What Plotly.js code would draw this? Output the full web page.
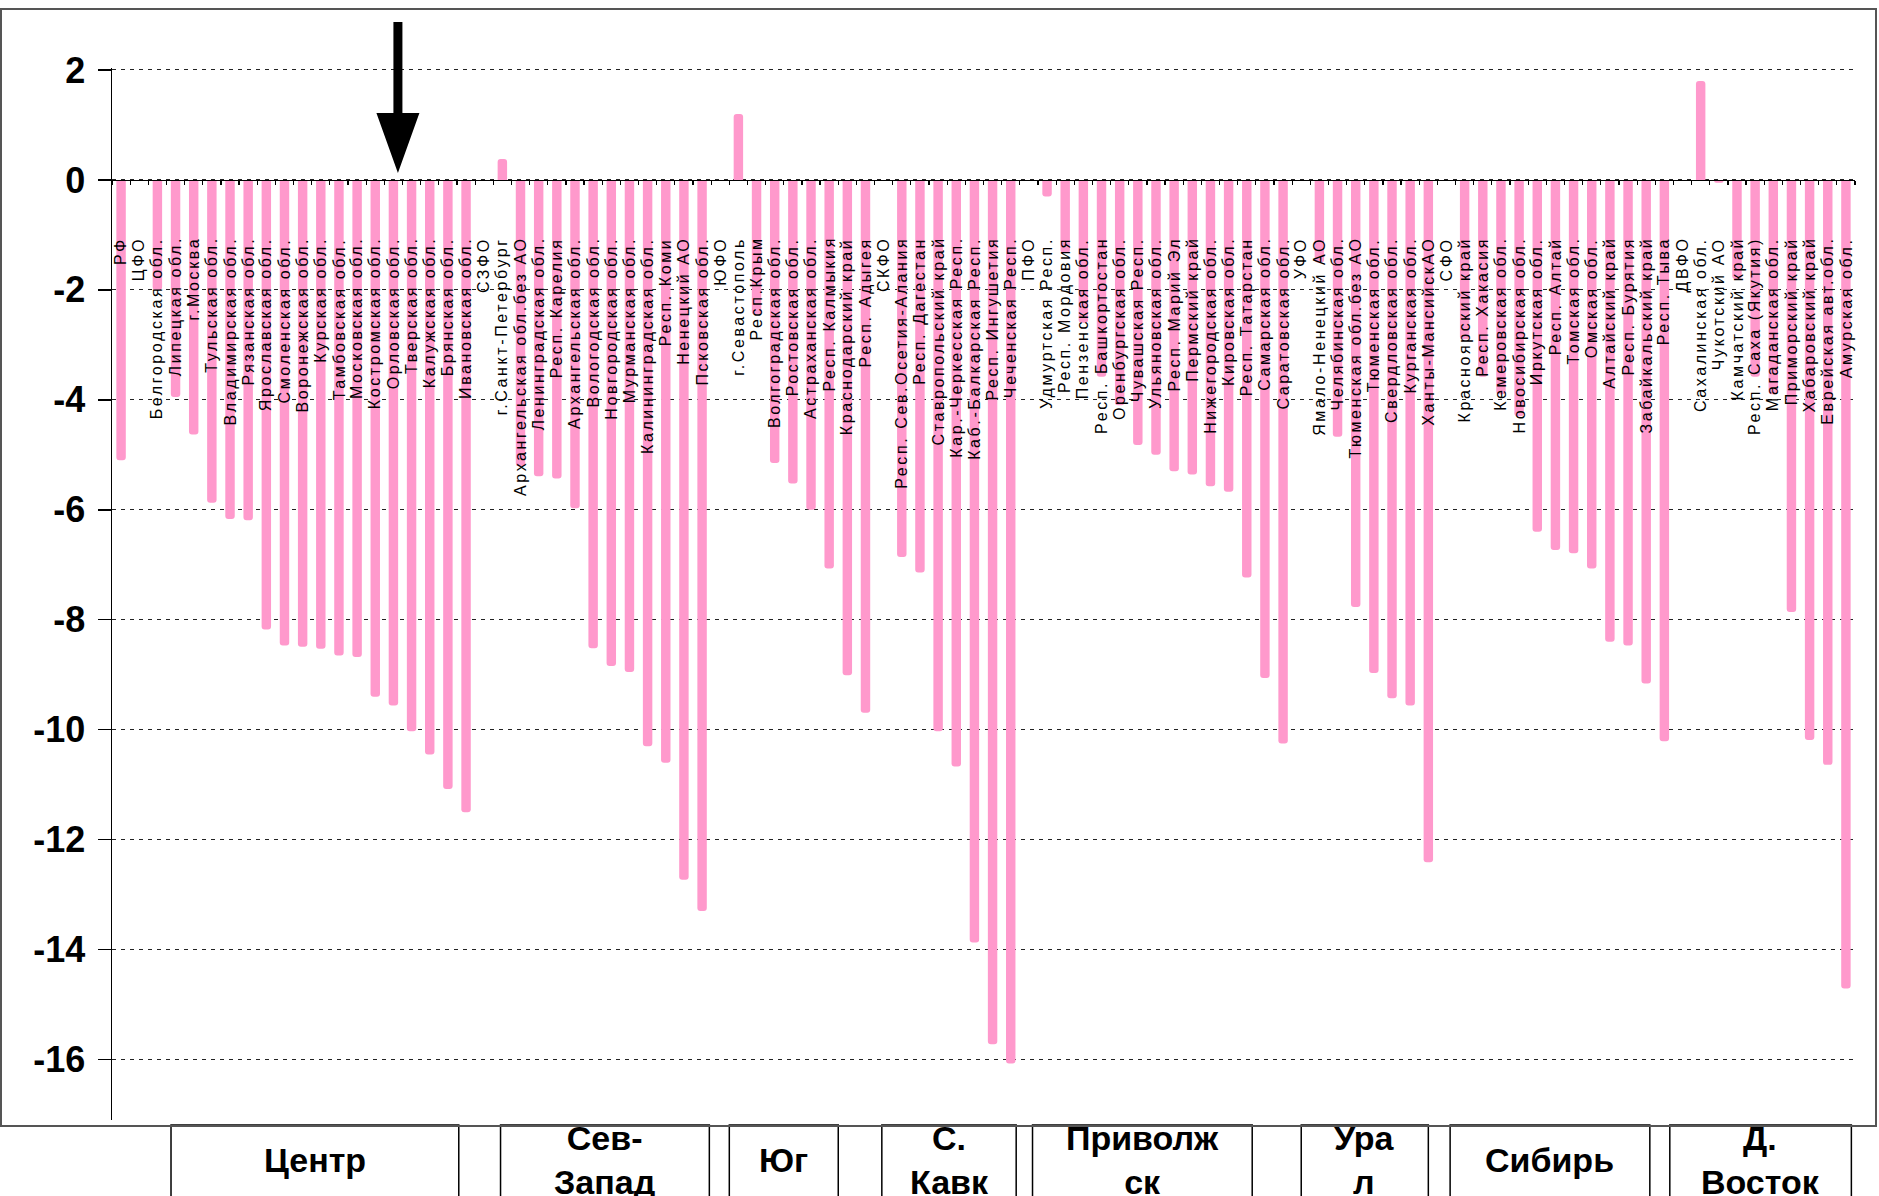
<!DOCTYPE html>
<html><head><meta charset="utf-8">
<script src="https://cdn.plot.ly/plotly-3.0.1.min.js"></script>
<style>
html,body{margin:0;padding:0;background:#fff;}
#wrap{position:relative;width:1879px;height:1196px;overflow:hidden;}
#chart{width:1879px;height:1196px;}
#frame{position:absolute;left:0;top:8px;width:1877px;height:1119px;border:2px solid #555;box-sizing:border-box;pointer-events:none;}
</style></head><body>
<div id="wrap"><div id="chart"></div><div id="frame"></div></div>
<script>
const regions = [
 "РФ","ЦФО","Белгородская обл.","Липецкая обл.","г.Москва","Тульская обл.","Владимирская обл.","Рязанская обл.",
 "Ярославская обл.","Смоленская обл.","Воронежская обл.","Курская обл.","Тамбовская обл.","Московская обл.",
 "Костромская обл.","Орловская обл.","Тверская обл.","Калужская обл.","Брянская обл.","Ивановская обл.",
 "СЗФО","г.Санкт-Петербург","Архангельская обл.без АО","Ленинградская обл.","Респ. Карелия","Архангельская обл.",
 "Вологодская обл.","Новгородская обл.","Мурманская обл.","Калининградская обл.","Респ. Коми","Ненецкий АО",
 "Псковская обл.","ЮФО","г.Севастополь","Респ.Крым","Волгоградская обл.","Ростовская обл.","Астраханская обл.",
 "Респ. Калмыкия","Краснодарский край","Респ. Адыгея","СКФО","Респ. Сев.Осетия-Алания","Респ. Дагестан",
 "Ставропольский край","Кар.-Черкесская Респ.","Каб.-Балкарская Респ.","Респ. Ингушетия","Чеченская Респ.",
 "ПФО","Удмуртская Респ.","Респ. Мордовия","Пензенская обл.","Респ. Башкортостан","Оренбургская обл.",
 "Чувашская Респ.","Ульяновская обл.","Респ. Марий Эл","Пермский край","Нижегородская обл.","Кировская обл.",
 "Респ. Татарстан","Самарская обл.","Саратовская обл.","УФО","Ямало-Ненецкий АО","Челябинская обл.",
 "Тюменская обл.без АО","Тюменская обл.","Свердловская обл.","Курганская обл.","Ханты-МансийскАО","СФО",
 "Красноярский край","Респ. Хакасия","Кемеровская обл.","Новосибирская обл.","Иркутская обл.","Респ. Алтай",
 "Томская обл.","Омская обл.","Алтайский край","Респ. Бурятия","Забайкальский край","Респ. Тыва","ДВФО",
 "Сахалинская обл.","Чукотский АО","Камчатский край","Респ. Саха (Якутия)","Магаданская обл.","Приморский край",
 "Хабаровский край","Еврейская авт.обл.","Амурская обл."
];
const values = [
 -5.1, null, -2.0, -3.95, -4.63, -5.87, -6.17, -6.19,
 -8.18, -8.47, -8.49, -8.53, -8.65, -8.68,
 -9.4, -9.56, -10.03, -10.45, -11.08, -11.5,
 null, 0.38, -5.21, -5.39, -5.43, -5.97,
 -8.52, -8.84, -8.95, -10.3, -10.6, -12.73,
 -13.3, null, 1.2, -2.45, -5.15, -5.52, -6.0,
 -7.07, -9.01, -9.69, null, -6.86, -7.14,
 -10.03, -10.67, -13.87, -15.72, -16.07,
 null, -0.3, -1.33, -2.6, -3.58, -4.1,
 -4.82, -5.0, -5.3, -5.36, -5.57, -5.67,
 -7.23, -9.06, -10.25, null, -1.5, -4.67,
 -7.77, -8.97, -9.43, -9.56, -12.41, null,
 -2.9, -3.58, -3.9, -4.3, -6.4, -6.73,
 -6.79, -7.07, -8.4, -8.47, -9.16, -10.21, null,
 1.8, -0.05, -1.8, -3.58, -3.9, -7.86,
 -10.19, -10.64, -14.71
];
const yTickValues = [2, 0, -2, -4, -6, -8, -10, -12, -14, -16];
const yTickLabels = ["2", "0", "-2", "-4", "-6", "-8", "-10", "-12", "-14", "-16"];
const groupNames = ["Центр", "Сев-<br>Запад", "Юг", "С.<br>Кавк", "Приволж<br>ск", "Ура<br>л", "Сибирь", "Д.<br>Восток"];
const arrowTarget = "Орловская обл.";

// layout (positions in category units) for the group boxes under the chart
const groupBoxSpans = [[2.75,18.6],[20.9,32.4],[33.5,39.5],[41.9,49.3],[50.2,62.3],[65.0,72.0],[73.2,84.2],[85.3,95.3]];

const W = 1879, H = 1196;
const mT = 68, mB = 76, mL = 112, mR = 24;
const yMin = -17.1, yMax = 2.036;
const plotH = H - mT - mB;
const zeroFrac = (0 - yMin) / (yMax - yMin);
const pxToPaperY = py => (H - mB - py) / plotH;

const font = "Liberation Sans, Arial, Helvetica, sans-serif";

const annotations = regions.map(r => ({
  x: r, y: -1.0, xref: 'x', yref: 'y',
  text: '<span style="letter-spacing:2.6px">' + r + '</span>',
  textangle: -90, showarrow: false, xanchor: 'center', yanchor: 'top',
  font: {family: font, size: 16, color: '#000'}
}));

const shapes = [];
groupNames.forEach((g, i) => {
  const [a, b] = groupBoxSpans[i];
  shapes.push({type: 'rect', xref: 'x', yref: 'paper', x0: a, x1: b,
    y0: pxToPaperY(1125), y1: pxToPaperY(1240), line: {color: '#000', width: 1.5}, layer: 'above'});
  annotations.push({x: (a + b) / 2, y: pxToPaperY(1160), xref: 'x', yref: 'paper', text: g,
    showarrow: false, xanchor: 'center', yanchor: 'middle',
    font: {family: font, size: 34, weight: 'bold', color: '#000'}});
});

shapes.push({type: 'path', xref: 'x', yref: 'paper', xsizemode: 'pixel', ysizemode: 'pixel',
  xanchor: regions.indexOf(arrowTarget), yanchor: zeroFrac,
  path: 'M 4.5,7 L 26,67 L 9,67 L 9,158 L 0,158 L 0,67 L -17,67 Z',
  fillcolor: '#000', line: {width: 0}, layer: 'above'});

const data = [{
  type: 'bar', x: regions, y: values,
  marker: {color: '#FF99CC', line: {width: 0}},
  hoverinfo: 'none'
}];

const layout = {
  width: W, height: H,
  margin: {l: mL, r: mR, t: mT, b: mB, pad: 0},
  paper_bgcolor: '#fff', plot_bgcolor: '#fff',
  showlegend: false,
  bargap: 0.48,
  barcornerradius: 3,
  xaxis: {
    type: 'category', range: [-0.5, regions.length - 0.5],
    anchor: 'free', position: zeroFrac,
    showline: true, linecolor: '#000', linewidth: 1.5,
    ticks: 'outside', tickson: 'boundaries', ticklen: 4, tickwidth: 1.2, tickcolor: '#000',
    showticklabels: false, showgrid: false, zeroline: false, fixedrange: true
  },
  yaxis: {
    range: [yMin, yMax],
    tickmode: 'array', tickvals: yTickValues, ticktext: yTickLabels,
    showline: true, linecolor: '#000', linewidth: 1.5,
    ticks: 'outside', ticklen: 13, tickwidth: 1.5, tickcolor: '#000',
    ticklabelstandoff: 5,
    tickfont: {family: font, size: 36, weight: 'bold', color: '#000'},
    showgrid: true, gridcolor: '#222', gridwidth: 1, griddash: '4px,5px',
    zeroline: false, fixedrange: true
  },
  annotations: annotations,
  shapes: shapes
};

Plotly.newPlot('chart', data, layout, {staticPlot: true, displayModeBar: false});
</script>
</body></html>
